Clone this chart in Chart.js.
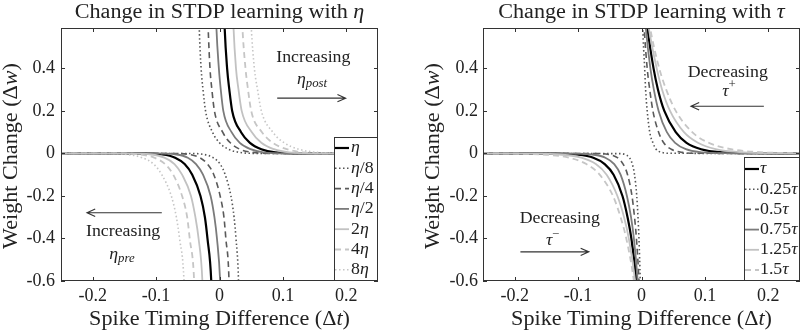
<!DOCTYPE html>
<html>
<head>
<meta charset="utf-8">
<title>Change in STDP learning</title>
<script src="https://cdn.jsdelivr.net/npm/chart.js@4"></script>
<style>
  html, body { margin: 0; padding: 0; background: #fff; }
  .wrap { position: absolute; top: 0; height: 333px; }
  #left { left: 0; width: 400px; }
  #right { left: 400px; width: 403px; }
</style>
</head>
<body>
<div class="wrap" id="left"><canvas id="etaChart" width="400" height="333"></canvas></div>
<div class="wrap" id="right"><canvas id="tauChart" width="403" height="333"></canvas></div>
<script>
// ---- data ----
const X_TICKS = [-0.2, -0.1, 0, 0.1, 0.2];
const Y_TICKS = [-0.6, -0.4, -0.2, 0, 0.2, 0.4];

// left panel: eta. each curve = depression branch (dt<0 side) + potentiation branch
const ETA_LABELS = ['η', 'η/8', 'η/4', 'η/2', '2η', '4η', '8η'];
const ETA_NEG_Y = [0, 0, -0.005, -0.02, -0.05, -0.1, -0.2, -0.3, -0.4, -0.6, -0.9];
const ETA_NEG_X = [
  [-0.25, -0.128, -0.090, -0.070, -0.055, -0.043, -0.030, -0.023, -0.019, -0.013, -0.010],
  [-0.25, -0.050, -0.024, -0.010, 0.001, 0.009, 0.018, 0.023, 0.026, 0.030, 0.032],
  [-0.25, -0.077, -0.047, -0.031, -0.019, -0.009, 0.001, 0.007, 0.010, 0.015, 0.017],
  [-0.25, -0.103, -0.068, -0.050, -0.037, -0.026, -0.014, -0.008, -0.004, 0.001, 0.004],
  [-0.25, -0.148, -0.108, -0.087, -0.071, -0.059, -0.045, -0.038, -0.033, -0.027, -0.024],
  [-0.25, -0.167, -0.125, -0.103, -0.086, -0.073, -0.059, -0.051, -0.047, -0.040, -0.037],
  [-0.25, -0.188, -0.145, -0.122, -0.104, -0.091, -0.076, -0.068, -0.063, -0.056, -0.053]
];
const ETA_POS_Y = [0.9, 0.6, 0.4, 0.3, 0.2, 0.1, 0.05, 0.02, 0.005, 0, 0];
const ETA_POS_X = [
  [0.005, 0.008, 0.012, 0.0155, 0.020, 0.034, 0.048, 0.066, 0.088, 0.128, 0.25],
  [-0.034, -0.032, -0.029, -0.026, -0.022, -0.011, 0.000, 0.014, 0.032, 0.064, 0.25],
  [-0.021, -0.018, -0.015, -0.012, -0.008, 0.005, 0.017, 0.032, 0.052, 0.086, 0.25],
  [-0.008, -0.005, -0.001, 0.002, 0.006, 0.019, 0.032, 0.049, 0.069, 0.107, 0.25],
  [0.019, 0.022, 0.026, 0.030, 0.035, 0.051, 0.066, 0.086, 0.110, 0.154, 0.25],
  [0.032, 0.036, 0.041, 0.045, 0.050, 0.067, 0.084, 0.106, 0.132, 0.180, 0.25],
  [0.046, 0.050, 0.055, 0.060, 0.066, 0.084, 0.102, 0.125, 0.154, 0.206, 0.25]
];

// right panel: tau
const TAU_LABELS = ['τ', '0.25τ', '0.5τ', '0.75τ', '1.25τ', '1.5τ'];
const TAU_NEG_Y = [0, -0.001, -0.005, -0.02, -0.05, -0.1, -0.2, -0.3, -0.4, -0.6, -1.0];
const TAU_NEG_X = [
  [-0.25, -0.136, -0.104, -0.076, -0.058, -0.044, -0.030, -0.022, -0.016, -0.008, 0.002],
  [-0.25, -0.034, -0.026, -0.019, -0.0145, -0.011, -0.0075, -0.0055, -0.004, -0.002, 0.0005],
  [-0.25, -0.068, -0.052, -0.038, -0.029, -0.022, -0.015, -0.011, -0.008, -0.004, 0.001],
  [-0.25, -0.102, -0.078, -0.057, -0.043, -0.033, -0.023, -0.0165, -0.012, -0.006, 0.0016],
  [-0.25, -0.170, -0.130, -0.095, -0.072, -0.055, -0.038, -0.0275, -0.020, -0.010, 0.0026],
  [-0.25, -0.204, -0.156, -0.114, -0.087, -0.066, -0.045, -0.033, -0.024, -0.012, 0.003]
];
const TAU_POS_Y = [0.9, 0.6, 0.4, 0.3, 0.2, 0.1, 0.05, 0.02, 0.005, 0.001, 0];
const TAU_POS_X = [
  [-0.001, 0.009, 0.019, 0.026, 0.036, 0.054, 0.071, 0.094, 0.128, 0.169, 0.25],
  [0.000, 0.002, 0.005, 0.0065, 0.009, 0.013, 0.018, 0.023, 0.032, 0.042, 0.25],
  [-0.001, 0.004, 0.009, 0.013, 0.018, 0.027, 0.035, 0.047, 0.064, 0.084, 0.25],
  [-0.001, 0.0065, 0.014, 0.0195, 0.027, 0.040, 0.053, 0.070, 0.096, 0.127, 0.25],
  [-0.002, 0.011, 0.024, 0.0325, 0.045, 0.067, 0.089, 0.117, 0.161, 0.211, 0.25],
  [-0.002, 0.013, 0.028, 0.039, 0.054, 0.080, 0.106, 0.141, 0.193, 0.245, 0.25]
];

// ---- styles ----
const DOT = [1.5, 2.5], DASH = [6, 4];
const ETA_STYLES = [
  { c: '#000000', w: 2.2, d: [] },
  { c: '#555555', w: 1.6, d: DOT },
  { c: '#5a5a5a', w: 1.6, d: DASH },
  { c: '#7b7b7b', w: 1.8, d: [] },
  { c: '#c2c2c2', w: 1.8, d: [] },
  { c: '#c6c6c6', w: 1.8, d: DASH },
  { c: '#c6c6c6', w: 1.6, d: DOT }
];
const TAU_STYLES = [
  { c: '#000000', w: 2.2, d: [] },
  { c: '#555555', w: 1.6, d: DOT },
  { c: '#5a5a5a', w: 1.6, d: DASH },
  { c: '#7b7b7b', w: 1.8, d: [] },
  { c: '#c2c2c2', w: 1.8, d: [] },
  { c: '#c6c6c6', w: 1.8, d: DASH }
];

const TXT = '#222';
const AXC = '#333';
const FONT = '"Liberation Serif", "Times New Roman", serif';
const STRETCH = 1.08;

function parseRich(str) {
  const parts = [];
  let buf = '', it = false;
  const flush = () => { if (buf) parts.push({ t: buf, it }); buf = ''; };
  for (const ch of str) {
    if (ch === '*') { flush(); it = !it; continue; }
    if ('ητ'.includes(ch)) { flush(); parts.push({ t: ch, it: true }); continue; }
    buf += ch;
  }
  flush();
  return parts;
}

function drawRich(ctx, parts, x, y, size, o = {}) {
  ctx.save();
  ctx.translate(x, y);
  if (o.rot) ctx.rotate(o.rot);
  ctx.scale(STRETCH, 1);
  ctx.fillStyle = TXT;
  ctx.textBaseline = o.baseline || 'alphabetic';
  ctx.textAlign = 'left';
  const fontOf = p => (p.it ? 'italic ' : '') + (size * (p.s || 1)) + 'px ' + FONT;
  let w = 0;
  for (const p of parts) { ctx.font = fontOf(p); w += ctx.measureText(p.t).width; }
  let cx = o.align === 'left' ? 0 : -w / 2;
  for (const p of parts) {
    ctx.font = fontOf(p);
    ctx.fillText(p.t, cx, p.dy || 0);
    cx += ctx.measureText(p.t).width;
  }
  ctx.restore();
}

function arrow(ctx, x1, y1, x2, y2) {
  const a = Math.atan2(y2 - y1, x2 - x1), L = 9, s = 0.42;
  ctx.save();
  ctx.strokeStyle = '#333';
  ctx.lineWidth = 1.1;
  ctx.beginPath();
  ctx.moveTo(x1, y1); ctx.lineTo(x2, y2);
  ctx.moveTo(x2 - L * Math.cos(a - s), y2 - L * Math.sin(a - s));
  ctx.lineTo(x2, y2);
  ctx.lineTo(x2 - L * Math.cos(a + s), y2 - L * Math.sin(a + s));
  ctx.stroke();
  ctx.restore();
}

const framePlugin = {
  id: 'frame',
  afterDatasetsDraw(chart, args, opts) {
    const ctx = chart.ctx, ca = chart.chartArea;
    const xs = chart.scales.x, ys = chart.scales.y;
    // annotations
    for (const n of opts.notes) {
      drawRich(ctx, n.parts, xs.getPixelForValue(n.x), ys.getPixelForValue(n.y), n.size, { baseline: 'middle' });
    }
    for (const a of opts.arrows) {
      const y = ys.getPixelForValue(a.y);
      arrow(ctx, xs.getPixelForValue(a.x1), y, xs.getPixelForValue(a.x2), y);
    }
    // box + inward ticks
    ctx.save();
    ctx.strokeStyle = AXC;
    ctx.lineWidth = 1;
    ctx.strokeRect(ca.left + 0.5, ca.top + 0.5, ca.right - ca.left - 1, ca.bottom - ca.top - 1);
    ctx.beginPath();
    for (const t of xs.ticks) {
      const p = Math.round(xs.getPixelForValue(t.value)) + 0.5;
      ctx.moveTo(p, ca.bottom); ctx.lineTo(p, ca.bottom - 4);
      ctx.moveTo(p, ca.top); ctx.lineTo(p, ca.top + 4);
    }
    for (const t of ys.ticks) {
      const p = Math.round(ys.getPixelForValue(t.value)) + 0.5;
      ctx.moveTo(ca.left, p); ctx.lineTo(ca.left + 4, p);
      ctx.moveTo(ca.right, p); ctx.lineTo(ca.right - 4, p);
    }
    ctx.stroke();
    // legend box
    const lg = opts.legend;
    const L = ca.right - lg.w, T = ca.bottom - lg.h;
    ctx.fillStyle = '#fff';
    ctx.fillRect(L, T, lg.w, lg.h);
    ctx.strokeRect(L + 0.5, T + 0.5, lg.w - 1, lg.h - 1);
    chart.data.datasets.forEach((ds, i) => {
      const y = T + lg.first + lg.step * i;
      ctx.save();
      ctx.strokeStyle = ds.borderColor;
      ctx.lineWidth = ds.borderWidth;
      ctx.setLineDash(ds.borderDash);
      ctx.beginPath();
      ctx.moveTo(L + 1, y); ctx.lineTo(L + 15, y);
      ctx.stroke();
      ctx.restore();
      drawRich(ctx, parseRich(ds.label), L + lg.textX, y, 16.5, { align: 'left', baseline: 'middle' });
    });
    ctx.restore();
    // titles
    const cx = (ca.left + ca.right) / 2;
    drawRich(ctx, parseRich(opts.title), cx, 18, 20.5);
    drawRich(ctx, parseRich('Spike Timing Difference (Δ*t*)'), cx, 325, 20.5);
    drawRich(ctx, parseRich('Weight Change (Δ*w*)'), opts.yTitleX, 156, 20.5, { rot: -Math.PI / 2 });
  }
};

function makeChart(id, cfg) {
  const datasets = cfg.labels.map((label, i) => {
    const st = cfg.styles[i];
    const neg = cfg.negX[i].map((x, k) => ({ x, y: cfg.negY[k] }));
    const pos = cfg.posX[i].map((x, k) => ({ x, y: cfg.posY[k] }));
    return {
      label,
      data: neg.concat([{ x: 0, y: null }], pos),
      borderColor: st.c,
      borderWidth: st.w,
      borderDash: st.d,
      pointRadius: 0,
      cubicInterpolationMode: 'monotone',
      spanGaps: false,
      clip: 0,
      order: -i
    };
  });
  const tickFont = { family: FONT, size: 18 };
  return new Chart(document.getElementById(id), {
    type: 'line',
    data: { datasets },
    options: {
      responsive: false,
      devicePixelRatio: 1,
      animation: false,
      layout: { padding: { top: 28, right: cfg.rightPad, left: 0, bottom: 0 } },
      scales: {
        x: {
          type: 'linear', min: -0.25, max: 0.25,
          afterBuildTicks: s => { s.ticks = X_TICKS.map(v => ({ value: v })); },
          afterFit: s => { s.height = 52; },
          grid: { display: false, drawTicks: false },
          border: { display: false },
          ticks: { font: tickFont, color: TXT, padding: 4, maxRotation: 0, autoSkip: false, callback: v => String(v) }
        },
        y: {
          type: 'linear', min: -0.6, max: 0.59,
          afterBuildTicks: s => { s.ticks = Y_TICKS.map(v => ({ value: v })); },
          afterFit: s => { s.width = cfg.yWidth; },
          grid: { display: false, drawTicks: false },
          border: { display: false },
          ticks: { font: tickFont, color: TXT, padding: cfg.yPad, autoSkip: false, callback: v => String(v) }
        }
      },
      plugins: {
        legend: { display: false },
        tooltip: { enabled: false },
        title: { display: false },
        frame: {
          title: cfg.title,
          yTitleX: cfg.yTitleX,
          legend: cfg.legend,
          notes: cfg.notes,
          arrows: cfg.arrows
        }
      }
    },
    plugins: [framePlugin]
  });
}

makeChart('etaChart', {
  title: 'Change in STDP learning with η',
  labels: ETA_LABELS, styles: ETA_STYLES,
  negX: ETA_NEG_X, negY: ETA_NEG_Y, posX: ETA_POS_X, posY: ETA_POS_Y,
  yWidth: 61, yPad: 6, rightPad: 22, yTitleX: 17,
  legend: { w: 44, h: 144, first: 11, step: 20.3, textX: 17 },
  notes: [
    { x: 0.148, y: 0.45, size: 16.5, parts: [{ t: 'Increasing' }] },
    { x: 0.146, y: 0.345, size: 16.5, parts: [{ t: 'η', it: true }, { t: 'post', it: true, s: 0.72, dy: 4 }] },
    { x: -0.152, y: -0.37, size: 16.5, parts: [{ t: 'Increasing' }] },
    { x: -0.154, y: -0.475, size: 16.5, parts: [{ t: 'η', it: true }, { t: 'pre', it: true, s: 0.72, dy: 4 }] }
  ],
  arrows: [
    { x1: 0.091, x2: 0.199, y: 0.26 },
    { x1: -0.091, x2: -0.209, y: -0.279 }
  ]
});

makeChart('tauChart', {
  title: 'Change in STDP learning with τ',
  labels: TAU_LABELS, styles: TAU_STYLES,
  negX: TAU_NEG_X, negY: TAU_NEG_Y, posX: TAU_POS_X, posY: TAU_POS_Y,
  yWidth: 83, yPad: 5, rightPad: 3, yTitleX: 39,
  legend: { w: 56, h: 124, first: 12, step: 20.2, textX: 16 },
  notes: [
    { x: 0.136, y: 0.38, size: 16.5, parts: [{ t: 'Decreasing' }] },
    { x: 0.138, y: 0.29, size: 16.5, parts: [{ t: 'τ', it: true }, { t: '+', s: 0.72, dy: -7 }] },
    { x: -0.129, y: -0.305, size: 16.5, parts: [{ t: 'Decreasing' }] },
    { x: -0.140, y: -0.41, size: 16.5, parts: [{ t: 'τ', it: true }, { t: '−', s: 0.72, dy: -7 }] }
  ],
  arrows: [
    { x1: 0.193, x2: 0.078, y: 0.222 },
    { x1: -0.191, x2: -0.083, y: -0.463 }
  ]
});
</script>
</body>
</html>
